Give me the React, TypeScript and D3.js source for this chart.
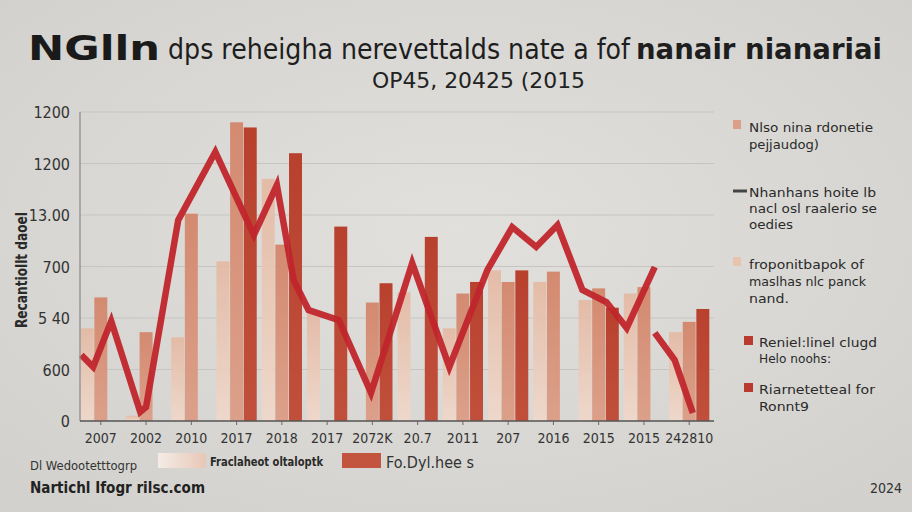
import React, { useEffect, useRef } from "react";
import * as d3 from "d3";

// categories (x tick labels, as printed)
const xLabels = ["2007", "2002", "2010", "2017", "2018", "2017", "2072K", "20.7", "2011", "207", "2016", "2015", "2015", "242810"];

// bar series (three shades)
const lightVals = [360, 20, 325, 620, 940, 420, 0, 500, 360, 585, 540, 470, 495, 345];
const midVals = [480, 345, 805, 1160, 685, 0, 460, 0, 495, 540, 580, 515, 520, 385];
const darkVals = [0, 0, 0, 1140, 1040, 755, 535, 715, 540, 585, 0, 440, 0, 435];

// red line: position in category units, value (null = break)
const lineIdx = [-0.43, -0.17, 0.23, 0.87, 1.0, 1.71, 2.53, 3.38, 3.89, 4.26, 4.59, 5.26, 5.97, 6.88, 7.7, 8.54, 9.09, 9.62, 10.09, 10.64, 11.17, 11.62, 12.24, 12.24, 12.24, 12.68, 13.08];
const lineVal = [256, 210, 388, 35, 54, 780, 1045, 722, 916, 547, 431, 392, 109, 613, 210, 586, 753, 676, 761, 509, 462, 361, 598, null, 342, 237, 31];

// y ticks and their printed labels
const yTicks = [0, 200, 400, 600, 800, 1000, 1200];
const yTickLabels = ["0", "600", "5 40", "700", "13.00", "1200", "1200"];

const rightLegend = [
  { kind: "sq", color: "#dc9f88", lines: ["Nlso nina rdonetie", "pejjaudog)"], widths: [124, 70] },
  { kind: "line", color: "#444444", lines: ["Nhanhans  hoite  lb", "nacl osl raalerio se", "oedies"], widths: [127, 128, 44] },
  { kind: "sq", color: "#e8c3ae", lines: ["froponitbapok of", "maslhas nlc panck", "nand."], widths: [115, 117, 40] },
  { kind: "sq2", color: "#b93a2e", lines: ["Reniel:linel clugd", "Helo noohs:"], widths: [118, 72] },
  { kind: "sq2", color: "#b93a2e", lines: ["Riarnetetteal for", "Ronnt9"], widths: [116, 50] },
];

const FONT = "'Liberation Sans Narrow', 'DejaVu Sans Condensed', 'Liberation Sans', Arial, sans-serif";

export default function App() {
  const ref = useRef<SVGSVGElement>(null);

  useEffect(() => {
    const svg = d3.select(ref.current);
    svg.selectAll("*").remove();

    const W = 912, H = 512;
    const left = 80, right = 710, top = 112, bottom = 421;

    const defs = svg.append("defs");
    const bg = defs.append("radialGradient").attr("id", "bg").attr("cx", "50%").attr("cy", "45%").attr("r", "70%");
    bg.append("stop").attr("offset", "0%").attr("stop-color", "#e1e0dc");
    bg.append("stop").attr("offset", "100%").attr("stop-color", "#d2d1cd");

    const mkGrad = (id: string, c1: string, c2: string) => {
      const g = defs.append("linearGradient").attr("id", id).attr("x1", 0).attr("y1", 0).attr("x2", 0).attr("y2", 1);
      g.append("stop").attr("offset", "0%").attr("stop-color", c1);
      g.append("stop").attr("offset", "100%").attr("stop-color", c2);
    };
    mkGrad("gLight", "#e4b8a2", "#f0d8ca");
    mkGrad("gMid", "#d38a70", "#dca08a");
    mkGrad("gDark", "#b8412e", "#c0503b");
    const lg = defs.append("linearGradient").attr("id", "gLeg").attr("x1", 0).attr("x2", 1);
    lg.append("stop").attr("offset", "0%").attr("stop-color", "#f4ece6");
    lg.append("stop").attr("offset", "100%").attr("stop-color", "#e8c7b6");

    svg.append("rect").attr("width", W).attr("height", H).attr("fill", "url(#bg)");

    // Title
    svg.append("text").attr("x", 28).attr("y", 60).attr("font-size", 34).attr("font-weight", "bold")
      .attr("textLength", 132).attr("lengthAdjust", "spacingAndGlyphs").attr("fill", "#1a1a1a").attr("font-family", FONT).text("NGlln");
    svg.append("text").attr("x", 168).attr("y", 59).attr("font-size", 28)
      .attr("textLength", 462).attr("lengthAdjust", "spacingAndGlyphs").attr("fill", "#1e1e1e").attr("font-family", FONT)
      .text("dps reheigha nerevettalds nate a fof");
    svg.append("text").attr("x", 636).attr("y", 59).attr("font-size", 28).attr("font-weight", 600)
      .attr("textLength", 246).attr("lengthAdjust", "spacingAndGlyphs").attr("fill", "#1e1e1e").attr("font-family", FONT)
      .text("nanair nianariai");
    svg.append("text").attr("x", 372).attr("y", 88).attr("font-size", 22)
      .attr("textLength", 213).attr("lengthAdjust", "spacingAndGlyphs").attr("fill", "#222").attr("font-family", FONT)
      .text("OP45, 20425 (2015");

    // Scales
    const x0 = d3.scaleBand<number>().domain(d3.range(xLabels.length)).range([left, right]).paddingInner(0.08);
    const series = ["light", "mid", "dark"];
    const x1 = d3.scaleBand<string>().domain(series).range([0, x0.bandwidth()]).padding(0.05);
    const y = d3.scaleLinear().domain([0, 1200]).range([bottom, top]);
    const step = x0.step();
    const xLine = d3.scaleLinear().domain([0, 1]).range([x0(0)! + x0.bandwidth() / 2, x0(0)! + x0.bandwidth() / 2 + step]);

    const chart = svg.append("g");

    // grid
    chart.selectAll(".grid").data(yTicks.slice(1)).join("line").attr("class", "grid")
      .attr("x1", left).attr("x2", right + 4).attr("y1", d => y(d)).attr("y2", d => y(d))
      .attr("stroke", "#c6c5c1").attr("stroke-width", 1.2);

    // y tick labels
    chart.selectAll(".ytl").data(yTicks).join("text").attr("class", "ytl")
      .attr("x", 70).attr("y", d => y(d) + 6).attr("text-anchor", "end")
      .attr("font-size", 16).attr("fill", "#333").attr("font-family", FONT)
      .text((d, i) => yTickLabels[i]);

    // y axis label
    svg.append("text").attr("transform", "translate(27,270) rotate(-90)").attr("text-anchor", "middle")
      .attr("font-size", 15).attr("font-weight", "bold").attr("fill", "#2a2a2a").attr("font-family", FONT)
      .attr("textLength", 116).attr("lengthAdjust", "spacingAndGlyphs").text("Recantiollt daoel");

    // bars
    const data = xLabels.map((_, i) => ({ i, light: lightVals[i], mid: midVals[i], dark: darkVals[i] }));
    const fills: Record<string, string> = { light: "url(#gLight)", mid: "url(#gMid)", dark: "url(#gDark)" };
    const groups = chart.selectAll(".grp").data(data).join("g").attr("class", "grp")
      .attr("transform", d => `translate(${x0(d.i)},0)`);
    groups.selectAll("rect")
      .data(d => series.map(k => ({ k, v: (d as any)[k] as number })))
      .join("rect")
      .attr("x", d => x1(d.k)!)
      .attr("y", d => y(d.v))
      .attr("width", x1.bandwidth())
      .attr("height", d => bottom - y(d.v))
      .attr("fill", d => fills[d.k])
      .attr("opacity", d => (d.k === "light" ? 0.9 : 1));

    // line
    const pts = lineIdx.map((xi, i) => ({ xi, v: lineVal[i] }));
    const line = d3.line<{ xi: number; v: number | null }>()
      .defined(d => d.v !== null)
      .x(d => xLine(d.xi))
      .y(d => y(d.v as number))
      .curve(d3.curveLinear);
    chart.append("path").datum(pts).attr("d", line as any)
      .attr("fill", "none").attr("stroke", "#c0262c").attr("stroke-width", 6.5)
      .attr("stroke-linejoin", "miter").attr("stroke-linecap", "butt").attr("opacity", 0.95);

    // axes lines
    chart.append("line").attr("x1", left).attr("x2", left).attr("y1", top).attr("y2", bottom)
      .attr("stroke", "#888").attr("stroke-width", 1.2);
    const xAxis = d3.axisBottom(x0).tickFormat(i => xLabels[i as number]).tickSize(4).tickSizeOuter(0);
    const ax = chart.append("g").attr("transform", `translate(0,${bottom})`).call(xAxis);
    ax.select(".domain").attr("stroke", "#555").attr("stroke-width", 1.6).attr("d", `M${left},0H${right + 4}`);
    ax.selectAll(".tick line").attr("stroke", "#666");
    ax.selectAll(".tick text").attr("font-size", 14).attr("fill", "#333").attr("font-family", FONT).attr("dy", "1.05em");

    // right legend
    const ys = [[132, 149], [197, 213, 229], [269, 286, 303], [347, 363], [394, 411]];
    rightLegend.forEach((item, k) => {
      const tx = item.kind === "sq2" ? 759 : 749;
      const y0 = ys[k][0];
      if (item.kind === "line") {
        svg.append("line").attr("x1", 733).attr("x2", 747).attr("y1", y0 - 6).attr("y2", y0 - 6)
          .attr("stroke", item.color).attr("stroke-width", 3);
      } else if (item.kind === "sq") {
        svg.append("rect").attr("x", 733).attr("y", y0 - 12).attr("width", 8).attr("height", 9).attr("fill", item.color);
      } else {
        svg.append("rect").attr("x", 744).attr("y", y0 - 11).attr("width", 9).attr("height", 9).attr("fill", item.color);
      }
      item.lines.forEach((t, j) => {
        svg.append("text").attr("x", tx).attr("y", ys[k][j]).attr("font-size", 13).attr("fill", "#2a2a2a")
          .attr("font-family", FONT).attr("textLength", item.widths[j]).attr("lengthAdjust", "spacingAndGlyphs").text(t);
      });
    });

    // bottom legend
    svg.append("rect").attr("x", 158).attr("y", 453).attr("width", 48).attr("height", 15).attr("fill", "url(#gLeg)");
    svg.append("text").attr("x", 210).attr("y", 466).attr("font-size", 13).attr("font-weight", "bold").attr("fill", "#2a2a2a")
      .attr("font-family", FONT).attr("textLength", 113).attr("lengthAdjust", "spacingAndGlyphs").text("Fraclaheot oltaloptk");
    svg.append("rect").attr("x", 342).attr("y", 453).attr("width", 39).attr("height", 15).attr("fill", "#c3553f");
    svg.append("text").attr("x", 386).attr("y", 468).attr("font-size", 15).attr("fill", "#333")
      .attr("font-family", FONT).attr("textLength", 88).attr("lengthAdjust", "spacingAndGlyphs").text("Fo.Dyl.hee s");

    // footer
    svg.append("text").attr("x", 30).attr("y", 470).attr("font-size", 12).attr("fill", "#333")
      .attr("font-family", FONT).attr("textLength", 107).attr("lengthAdjust", "spacingAndGlyphs").text("Dl Wedootetttogrp");
    svg.append("text").attr("x", 30).attr("y", 493).attr("font-size", 16).attr("font-weight", "bold").attr("fill", "#222")
      .attr("font-family", FONT).attr("textLength", 175).attr("lengthAdjust", "spacingAndGlyphs").text("Nartichl Ifogr rilsc.com");
    svg.append("text").attr("x", 870).attr("y", 493).attr("font-size", 14).attr("fill", "#333")
      .attr("font-family", FONT).text("2024");
  }, []);

  return (
    <svg ref={ref} width={912} height={512} style={{ position: "absolute", left: 0, top: 0, display: "block" }} />
  );
}
